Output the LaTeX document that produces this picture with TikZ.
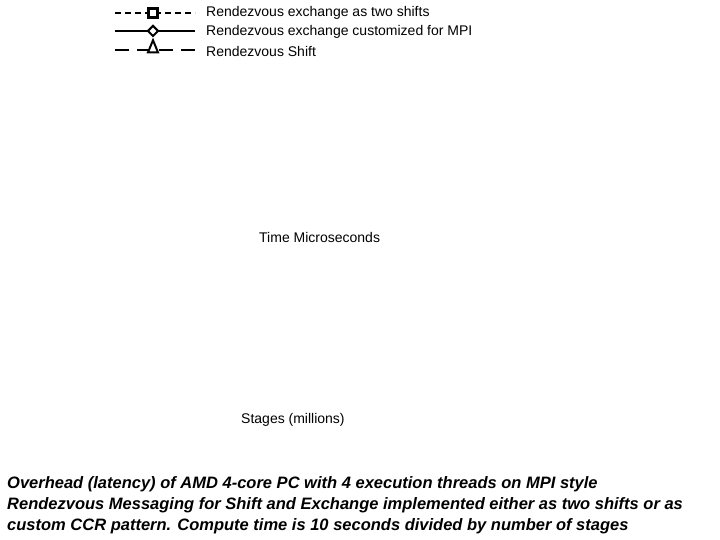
\documentclass[tikz,border=0pt]{standalone}
\usepackage{fontspec}
\usetikzlibrary{shapes.geometric}
\setmainfont{Liberation Sans}
\begin{document}
\begin{tikzpicture}[x=1pt,y=-1pt,
  lbl/.style={anchor=west,inner sep=0pt,font=\fontsize{14}{16}\selectfont},
  captext/.style={anchor=west,inner sep=0pt,font=\fontsize{16.5}{19}\selectfont\bfseries\itshape},
  ln/.style={line width=2.2pt}]
\useasboundingbox (0,0) rectangle (720,540);
\coordinate (a1) at (115,13); \coordinate (b1) at (195,13);
\coordinate (a2) at (115,31); \coordinate (b2) at (195,31);
\coordinate (a3) at (115,50); \coordinate (b3) at (195,50);
\draw[ln,dash pattern=on 6pt off 4pt] (a1) -- (b1);
\node[draw,line width=2.2pt,fill=white,minimum size=9pt,inner sep=0pt] (m1) at (153,13) {};
\draw[ln] (a2) -- (b2);
\node[draw,diamond,line width=2pt,fill=white,minimum size=11pt,inner sep=0pt] (m2) at (153,31) {};
\draw[ln,dash pattern=on 14pt off 8pt] (a3) -- (b3);
\node[draw,isosceles triangle,shape border rotate=90,line width=2pt,fill=white,minimum height=9pt,minimum width=10pt,inner sep=0pt] (m3) at (153,49) {};
\node[lbl] (t1) at (206,13) {Rendezvous exchange as two shifts};
\node[lbl] (t2) at (206,32) {Rendezvous exchange customized for MPI};
\node[lbl] (t3) at (206,51) {Rendezvous Shift};
\node[lbl] (ty) at (259,237) {Time Microseconds};
\node[lbl] (tx) at (241,420) {Stages (millions)};
\node[captext] (c1) at (7,484) {Overhead (latency) of AMD 4-core PC with 4 execution threads on MPI style};
\node[captext] (c2) at (7,505) {Rendezvous Messaging for Shift and Exchange implemented either as two shifts or as};
\node[captext] (c3) at (7,526) {custom CCR pattern. Compute time is 10 seconds divided by number of stages};
\end{tikzpicture}
\end{document}
